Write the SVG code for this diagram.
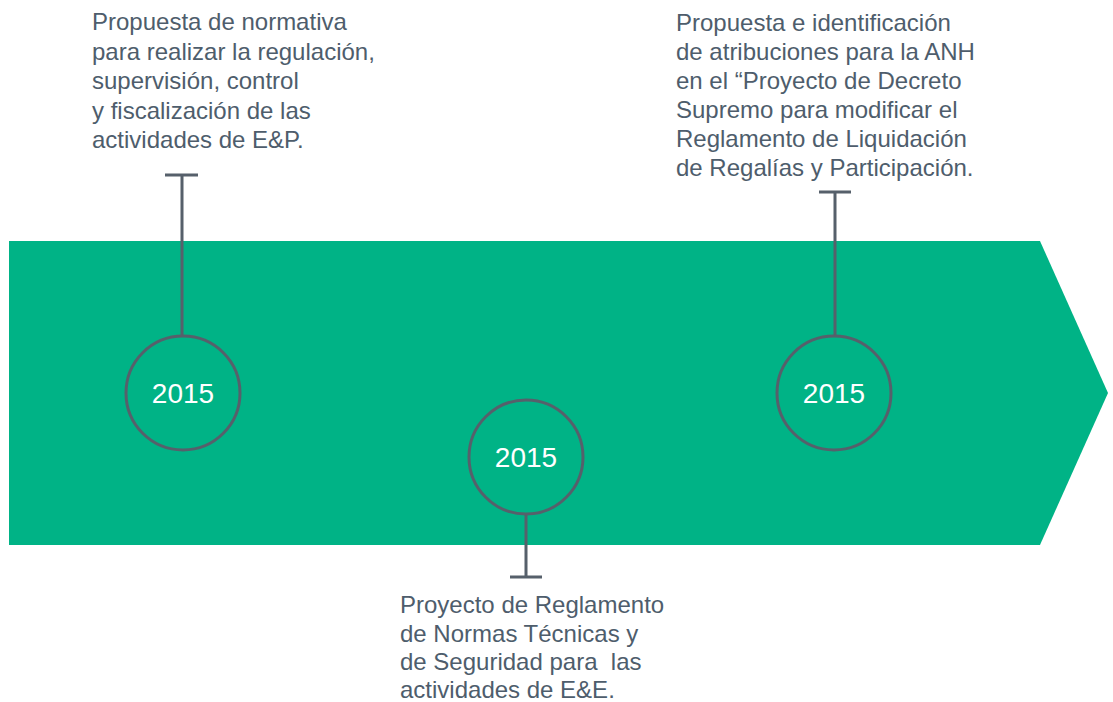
<svg xmlns="http://www.w3.org/2000/svg" width="1113" height="702" viewBox="0 0 1113 702">
<style>
.t{font-family:"Liberation Sans",Arial,sans-serif;font-size:24px;fill:#4e5d6c}
.y{font-family:"Liberation Sans",Arial,sans-serif;font-size:28px;fill:#ffffff;text-anchor:middle}
.c{fill:none;stroke:#56606b;stroke-width:3}
.l{stroke:#56606b;stroke-width:3;fill:none}
</style>
<rect width="1113" height="702" fill="#ffffff"/>
<g id="band"><polygon points="9,241 1040,241 1108,393 1040,545 9,545" fill="#00b386"/></g>
<g id="connectors">
<path class="l" d="M182,175 V336 M165,175 H198"/>
<path class="l" d="M526,515 V577 M510,577 H542"/>
<path class="l" d="M835,192 V336 M819,192 H851"/>
</g>
<g id="node1">
<circle class="c" cx="183" cy="393" r="57"/>
<text class="y" x="183" y="403">2015</text>
</g>
<g id="node2">
<circle class="c" cx="526" cy="457" r="57"/>
<text class="y" x="526" y="467">2015</text>
</g>
<g id="node3">
<circle class="c" cx="834" cy="393" r="57"/>
<text class="y" x="834" y="403">2015</text>
</g>
<g id="label1">
<text class="t" x="92" y="30">Propuesta de normativa</text>
<text class="t" x="92" y="60">para realizar la regulación,</text>
<text class="t" x="92" y="89">supervisión, control</text>
<text class="t" x="92" y="119">y fiscalización de las</text>
<text class="t" x="92" y="148">actividades de E&amp;P.</text>
</g>
<g id="label2">
<text class="t" x="400" y="613">Proyecto de Reglamento</text>
<text class="t" x="400" y="642">de Normas Técnicas y</text>
<text class="t" x="400" y="670" xml:space="preserve">de Seguridad para  las</text>
<text class="t" x="400" y="698">actividades de E&amp;E.</text>
</g>
<g id="label3">
<text class="t" x="676" y="31">Propuesta e identificación</text>
<text class="t" x="676" y="60">de atribuciones para la ANH</text>
<text class="t" x="676" y="89">en el “Proyecto de Decreto</text>
<text class="t" x="676" y="118">Supremo para modificar el</text>
<text class="t" x="676" y="147">Reglamento de Liquidación</text>
<text class="t" x="676" y="176">de Regalías y Participación.</text>
</g>
</svg>
